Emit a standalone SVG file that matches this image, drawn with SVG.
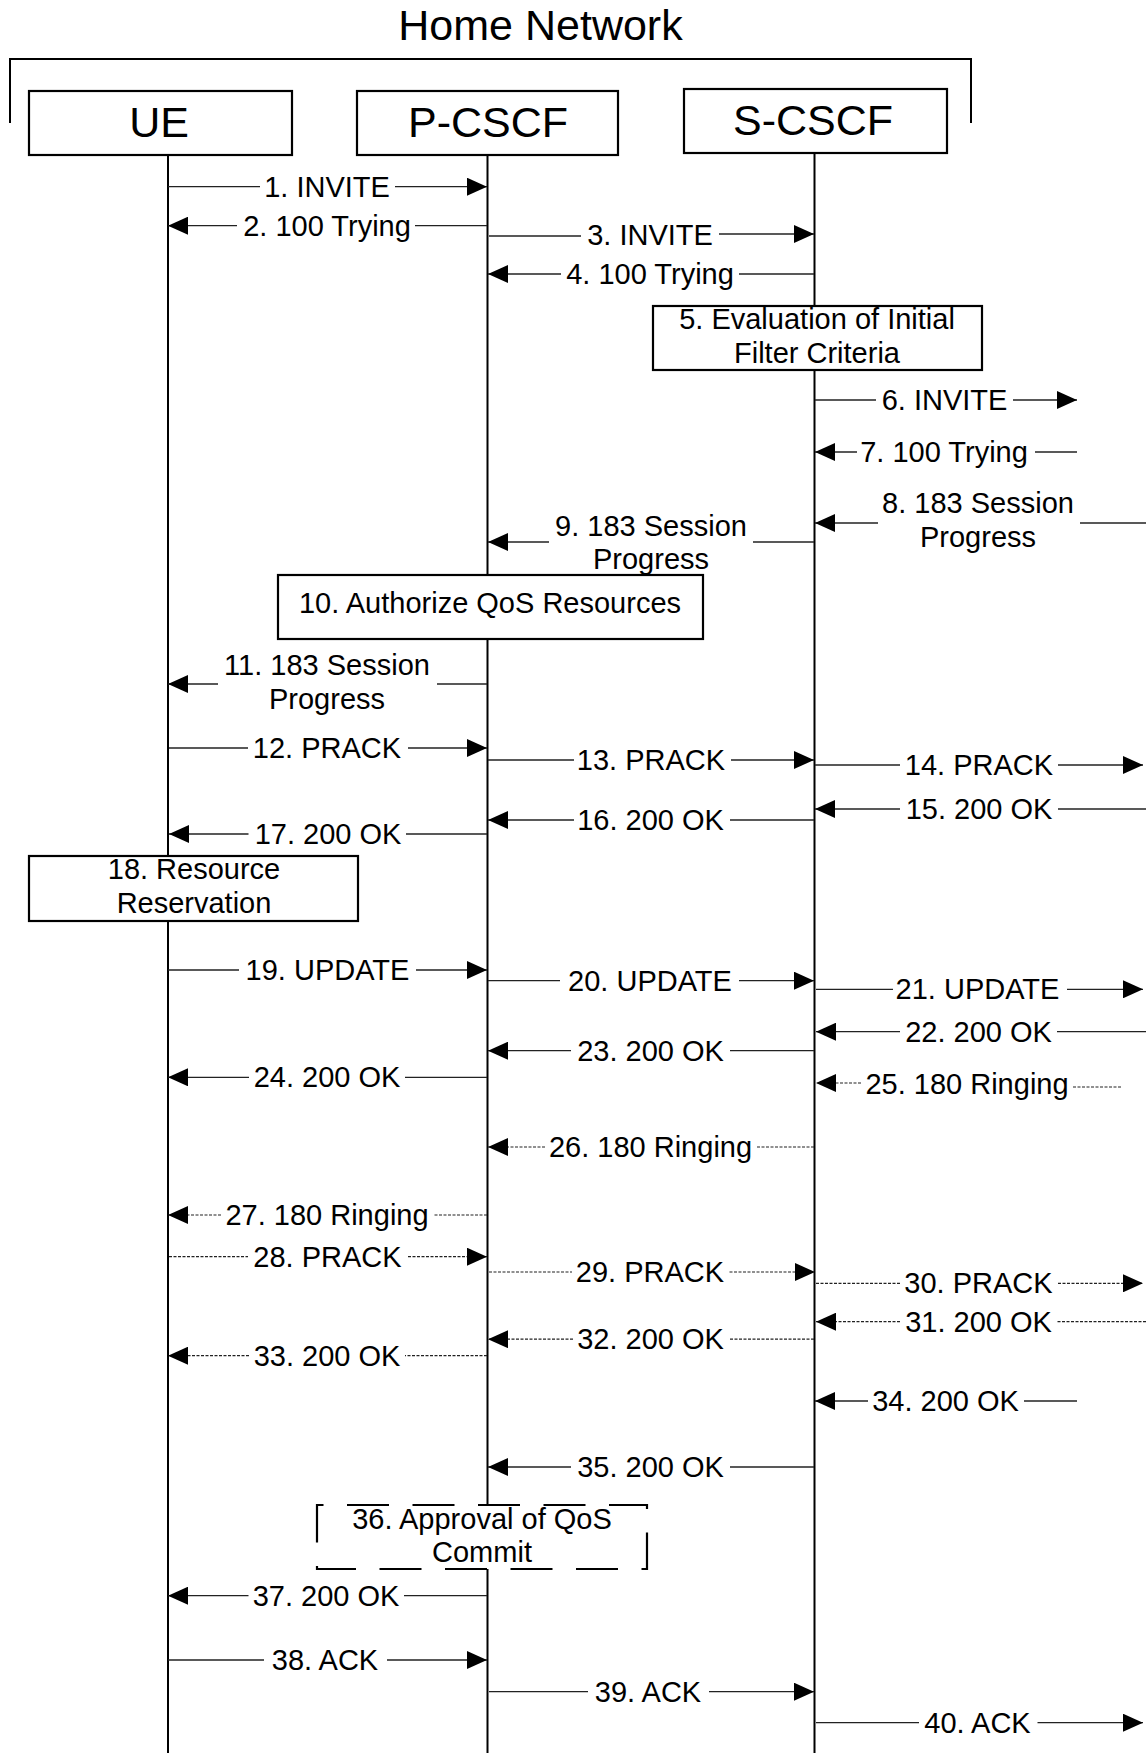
<svg xmlns="http://www.w3.org/2000/svg" width="1146" height="1753" viewBox="0 0 1146 1753">
<style>
.msg{stroke:#222;stroke-width:1.3;fill:none}
.dot{stroke:#222;stroke-width:1.2;fill:none;stroke-dasharray:3 1.5}
.lbl{font-family:"Liberation Sans",Arial,sans-serif;font-size:29px;fill:#000;text-anchor:middle}
.hdr{font-size:43px}
.box{fill:#fff;stroke:#000;stroke-width:2.2}
.life{stroke:#000;stroke-width:2;fill:none}
.brk{stroke:#000;stroke-width:2;fill:none}
.dash{fill:#fff;stroke:#000;stroke-width:2.2;stroke-dasharray:42 23.5;stroke-dashoffset:35.5}
</style>
<defs>
<marker id="ah" viewBox="0 0 20 18" markerWidth="20" markerHeight="18" refX="20" refY="9" orient="auto" markerUnits="userSpaceOnUse">
<path d="M0,0 L20,9 L0,18 Z" fill="#000"/>
</marker>
</defs>
<rect width="1146" height="1753" fill="#fff"/>

<g id="home-network">
<path class="brk" d="M10,123 V59 H971 V123"/>
<text class="lbl hdr" x="540.5" y="39.5">Home Network</text>
</g>

<g id="ue">
<line class="life" x1="168" y1="155" x2="168" y2="1753"/>
<rect class="box" x="29" y="91" width="263" height="64"/>
<text class="lbl hdr" x="159" y="137">UE</text>
</g>
<g id="p-cscf">
<line class="life" x1="487.5" y1="155" x2="487.5" y2="1753"/>
<rect class="box" x="357" y="91" width="261" height="64"/>
<text class="lbl hdr" x="488" y="137">P-CSCF</text>
</g>
<g id="s-cscf">
<line class="life" x1="814.5" y1="153" x2="814.5" y2="1753"/>
<rect class="box" x="684" y="89" width="263" height="64"/>
<text class="lbl hdr" x="813" y="135">S-CSCF</text>
</g>

<g id="connectors">
<!-- 1 -->
<path class="msg" d="M168,186.7 H260"/><path class="msg" d="M395,186.7 H487" marker-end="url(#ah)"/>
<text class="lbl" x="327" y="196.7">1. INVITE</text>
<!-- 2 -->
<path class="msg" d="M487,225.7 H415"/><path class="msg" d="M237,225.7 H168" marker-end="url(#ah)"/>
<text class="lbl" x="327" y="235.7">2. 100 Trying</text>
<!-- 3 -->
<path class="msg" d="M489,236 H581"/><path class="msg" d="M719,234 H814" marker-end="url(#ah)"/>
<text class="lbl" x="650" y="245">3. INVITE</text>
<!-- 4 -->
<path class="msg" d="M814,274 H739"/><path class="msg" d="M561,274 H488" marker-end="url(#ah)"/>
<text class="lbl" x="650" y="284">4. 100 Trying</text>
<!-- 6 -->
<path class="msg" d="M815,400 H876"/><path class="msg" d="M1013,400 H1077" marker-end="url(#ah)"/>
<text class="lbl" x="944.5" y="410">6. INVITE</text>
<!-- 7 -->
<path class="msg" d="M1077,452 H1035"/><path class="msg" d="M857,452 H815" marker-end="url(#ah)"/>
<text class="lbl" x="944" y="462">7. 100 Trying</text>
<!-- 8 -->
<path class="msg" d="M1146,523 H1080"/><path class="msg" d="M878,523 H815" marker-end="url(#ah)"/>
<text class="lbl" x="978" y="513">8. 183 Session</text>
<text class="lbl" x="978" y="547">Progress</text>
<!-- 9 -->
<path class="msg" d="M814,542 H753"/><path class="msg" d="M549,542 H488" marker-end="url(#ah)"/>
<text class="lbl" x="651" y="535.5">9. 183 Session</text>
<text class="lbl" x="651" y="569">Progress</text>
<!-- 11 -->
<path class="msg" d="M487,684 H437"/><path class="msg" d="M218,684 H168" marker-end="url(#ah)"/>
<text class="lbl" x="327" y="675">11. 183 Session</text>
<text class="lbl" x="327" y="709">Progress</text>
<!-- 12 -->
<path class="msg" d="M169,748 H248"/><path class="msg" d="M408,748 H487" marker-end="url(#ah)"/>
<text class="lbl" x="327" y="758">12. PRACK</text>
<!-- 13 -->
<path class="msg" d="M488,760 H574"/><path class="msg" d="M731,760 H814" marker-end="url(#ah)"/>
<text class="lbl" x="651" y="770">13. PRACK</text>
<!-- 14 -->
<path class="msg" d="M815,765 H900"/><path class="msg" d="M1058,765 H1143" marker-end="url(#ah)"/>
<text class="lbl" x="979" y="775">14. PRACK</text>
<!-- 15 -->
<path class="msg" d="M1146,809 H1058"/><path class="msg" d="M900,809 H815" marker-end="url(#ah)"/>
<text class="lbl" x="979" y="819">15. 200 OK</text>
<!-- 16 -->
<path class="msg" d="M814,820 H730"/><path class="msg" d="M574,820 H488" marker-end="url(#ah)"/>
<text class="lbl" x="650.5" y="830">16. 200 OK</text>
<!-- 17 -->
<path class="msg" d="M487,834 H406"/><path class="msg" d="M248.5,834 H169" marker-end="url(#ah)"/>
<text class="lbl" x="328" y="844">17. 200 OK</text>
<!-- 19 -->
<path class="msg" d="M168,970 H239"/><path class="msg" d="M416,970 H487" marker-end="url(#ah)"/>
<text class="lbl" x="327.5" y="980">19. UPDATE</text>
<!-- 20 -->
<path class="msg" d="M488,980.7 H560"/><path class="msg" d="M739,980.7 H814" marker-end="url(#ah)"/>
<text class="lbl" x="650" y="990.7">20. UPDATE</text>
<!-- 21 -->
<path class="msg" d="M816,989.3 H893"/><path class="msg" d="M1067,989.3 H1143" marker-end="url(#ah)"/>
<text class="lbl" x="977.5" y="999.3">21. UPDATE</text>
<!-- 22 -->
<path class="msg" d="M1146,1031.7 H1057"/><path class="msg" d="M900,1031.7 H816" marker-end="url(#ah)"/>
<text class="lbl" x="978.5" y="1041.7">22. 200 OK</text>
<!-- 23 -->
<path class="msg" d="M814,1050.7 H730"/><path class="msg" d="M571,1050.7 H488" marker-end="url(#ah)"/>
<text class="lbl" x="650.5" y="1060.7">23. 200 OK</text>
<!-- 24 -->
<path class="msg" d="M487,1077.3 H405"/><path class="msg" d="M249,1077.3 H168" marker-end="url(#ah)"/>
<text class="lbl" x="327" y="1087.3">24. 200 OK</text>
<!-- 25 -->
<path class="dot" d="M1121,1087 H1072"/><path class="dot" d="M861,1083 H816" marker-end="url(#ah)"/>
<text class="lbl" x="967" y="1094">25. 180 Ringing</text>
<!-- 26 -->
<path class="dot" d="M814,1147 H757"/><path class="dot" d="M545,1147 H488" marker-end="url(#ah)"/>
<text class="lbl" x="650.5" y="1157">26. 180 Ringing</text>
<!-- 27 -->
<path class="dot" d="M487,1215 H433.5"/><path class="dot" d="M221,1215 H168" marker-end="url(#ah)"/>
<text class="lbl" x="327" y="1225">27. 180 Ringing</text>
<!-- 28 -->
<path class="dot" d="M169,1256.7 H248"/><path class="dot" d="M408,1256.7 H487" marker-end="url(#ah)"/>
<text class="lbl" x="327.5" y="1266.7">28. PRACK</text>
<!-- 29 -->
<path class="dot" d="M489,1272 H572"/><path class="dot" d="M729.5,1272 H815" marker-end="url(#ah)"/>
<text class="lbl" x="650" y="1282">29. PRACK</text>
<!-- 30 -->
<path class="dot" d="M816,1283.3 H900"/><path class="dot" d="M1058,1283.3 H1143" marker-end="url(#ah)"/>
<text class="lbl" x="978.5" y="1293.3">30. PRACK</text>
<!-- 31 -->
<path class="dot" d="M1146,1321.7 H1057"/><path class="dot" d="M900,1321.7 H816" marker-end="url(#ah)"/>
<text class="lbl" x="978.5" y="1331.7">31. 200 OK</text>
<!-- 32 -->
<path class="dot" d="M814,1339.2 H729"/><path class="dot" d="M573,1339.2 H488" marker-end="url(#ah)"/>
<text class="lbl" x="650.5" y="1349.2">32. 200 OK</text>
<!-- 33 -->
<path class="dot" d="M487,1355.7 H405"/><path class="dot" d="M249,1355.7 H168" marker-end="url(#ah)"/>
<text class="lbl" x="327" y="1365.7">33. 200 OK</text>
<!-- 34 -->
<path class="msg" d="M1077,1401 H1024"/><path class="msg" d="M868,1401 H815" marker-end="url(#ah)"/>
<text class="lbl" x="945.5" y="1411">34. 200 OK</text>
<!-- 35 -->
<path class="msg" d="M814,1467 H730"/><path class="msg" d="M571,1467 H488" marker-end="url(#ah)"/>
<text class="lbl" x="650.5" y="1477">35. 200 OK</text>
<!-- 37 -->
<path class="msg" d="M487,1595.7 H404"/><path class="msg" d="M248.5,1595.7 H168" marker-end="url(#ah)"/>
<text class="lbl" x="326" y="1605.7">37. 200 OK</text>
<!-- 38 -->
<path class="msg" d="M168,1660 H264"/><path class="msg" d="M387,1660 H487" marker-end="url(#ah)"/>
<text class="lbl" x="325" y="1670">38. ACK</text>
<!-- 39 -->
<path class="msg" d="M489,1691.7 H588"/><path class="msg" d="M709,1691.7 H814" marker-end="url(#ah)"/>
<text class="lbl" x="648" y="1701.7">39. ACK</text>
<!-- 40 -->
<path class="msg" d="M816,1722.7 H919"/><path class="msg" d="M1037.5,1722.7 H1143" marker-end="url(#ah)"/>
<text class="lbl" x="977.5" y="1732.7">40. ACK</text>
</g>

<g id="step5">
<rect class="box" x="653" y="306" width="329" height="64"/>
<text class="lbl" x="817" y="329">5. Evaluation of Initial</text>
<text class="lbl" x="817" y="363">Filter Criteria</text>
</g>
<g id="step10">
<rect class="box" x="278" y="575" width="425" height="64"/>
<text class="lbl" x="490" y="613">10. Authorize QoS Resources</text>
</g>
<g id="step18">
<rect class="box" x="29" y="856" width="329" height="65"/>
<text class="lbl" x="194" y="879">18. Resource</text>
<text class="lbl" x="194" y="913">Reservation</text>
</g>
<g id="step36">
<path class="dash" d="M317,1505 H647 V1569 H317 Z"/>
<text class="lbl" x="482" y="1529">36. Approval of QoS</text>
<text class="lbl" x="482" y="1562">Commit</text>
</g>
</svg>
